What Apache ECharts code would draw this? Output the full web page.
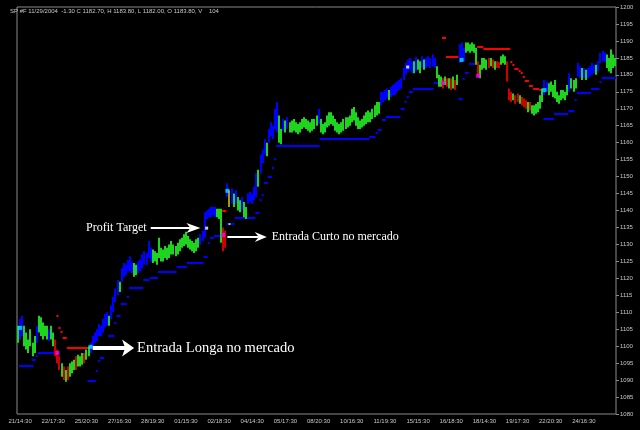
<!DOCTYPE html>
<html><head><meta charset="utf-8">
<script src="https://cdn.jsdelivr.net/npm/echarts@6/dist/echarts.min.js"></script>
<style>html,body{margin:0;padding:0;background:#000}#c{width:640px;height:430px}</style>
</head><body><div id="c"></div>
<script>
const timeLabels = ['21/14:30','22/17:30','25/20:30','27/16:30','28/19:30','01/15:30','02/18:30','04/14:30','05/17:30','08/20:30','10/16:30','11/19:30','15/15:30','16/18:30','18/14:30','19/17:30','22/20:30','24/16:30'];
const yTickMin = 1080, yTickMax = 1200, yTickStep = 5;

const barLow = [
1101,1102,1103,1100,1099,1098,1100,1097,1098,1101,
1104,1103,1102,1103,1102,1101.5,1102,1100,1097,1095,
1093,1091,1090,1089.5,1090,1091,1092,1093,1093,1094,
1094,1094.5,1095,1096,1097,1098,1100,1101,1101.5,1103,
1103,1104,1105.5,1106,1106,1108,1110,1113,1115,1116,
1119,1120.5,1121,1122,1122,1121.5,1120.5,1121,1121.5,1122,
1123,1124,1124,1126,1125,1124.5,1125,1124,1126,1125,
1125,1126,1125.5,1126,1127,1127,1126.5,1127,1128,1129,
1129.5,1130,1129,1128.5,1128,1127.5,1128,1129,1130,1131,
1132,1137.5,1138,1138,1138.5,1138,1138,1137.5,1130.5,1128,
1129,1144,1141,1142,1141,1142,1140,1139.5,1140,1138,
1137.5,1142,1142.5,1142,1143,1144,1147,1151,1154,1156.5,
1156,1160,1162,1161,1164,1163,1160,1159.5,1163.5,1163,
1164,1163,1163,1163.5,1163,1162.5,1163,1164,1164.5,1164,
1163.5,1163,1163.5,1164,1165,1165.5,1163,1162.5,1163,1164.5,
1165,1165.5,1165,1163.5,1163,1162.5,1163,1163.5,1164,1164.5,
1165,1166,1166.5,1165,1164,1164,1164.5,1165,1165.5,1166,
1166,1167,1167.5,1168,1168.5,1171,1172,1172.5,1173,1172.5,
1173.5,1174,1174,1175,1175.5,1176,1178.5,1180,1181,1181.5,
1180.5,1180.5,1181,1181.5,1180.5,1182,1181.5,1182,1182.5,1182,
1182.5,1182,1179,1176.5,1176.5,1176,1177,1176.5,1176,1175.5,
1176,1175.5,1177,1183.5,1184,1184,1186.5,1187,1186.5,1187,
1186.5,1183,1179.5,1179,1181.5,1182,1181.5,1182,1182.5,1182,
1181.5,1182,1182,1183,1183.5,1183,1178,1172.5,1172,1172.5,
1171.5,1172,1171.5,1171,1170.5,1170,1169,1169.5,1168.5,1168,
1168.5,1169,1170,1172,1174,1175,1174,1175,1173.5,1173,
1172,1171.5,1172.5,1173,1172.5,1174,1175,1176,1175,1176,
1179.5,1179,1178.5,1179,1178.5,1179,1179.5,1180,1180.5,1180,
1181,1183.5,1184,1183.8,1182,1181,1180.5,1182,1182.5
];
const barHigh = [
1106,1108,1109,1106,1104,1102,1105,1101,1103,1106,
1109,1108.5,1107,1106,1106,1105,1106,1104,1102,1099,
1097,1095,1094,1093,1094,1095,1095.5,1096,1097,1097.5,
1097,1098,1098,1099,1100,1101,1103,1104,1105,1106.5,
1106,1108,1109.5,1110,1109,1112,1114.5,1117,1119.5,1119,
1123,1124.5,1124,1125.5,1126.5,1125,1124.5,1124,1125,1125.5,
1127,1128,1127.5,1131,1129,1128.5,1128,1127.5,1132,1129,
1128.5,1129.5,1129,1130,1131,1130,1129.5,1130.5,1131.5,1132,
1133,1133.7,1132.5,1131.5,1131,1130.5,1131.5,1132,1133,1134,
1139.5,1140,1140.5,1141,1141,1141,1140.5,1140.5,1140.5,1135,
1134,1148,1146,1146.5,1145,1146,1144,1143,1144,1142.5,
1141,1145,1145.5,1145,1147,1151,1152,1156.5,1158,1161,
1160,1164,1166,1165,1170,1172,1168,1164,1167,1166.5,
1167.5,1166,1166.5,1167,1166,1165.5,1166,1167,1167.5,1167,
1166.5,1166,1167,1167,1168,1170,1167,1165.5,1166,1168,
1169,1169,1168,1167,1166,1165.5,1166,1167,1167.5,1167.5,
1168,1170,1170.5,1169,1167.5,1166.5,1167,1168,1169,1169.5,
1169,1170,1171,1172,1172,1175,1175,1175.5,1176,1175.5,
1176.5,1177,1177.5,1178,1178.5,1179,1182,1183.5,1184.5,1185,
1184,1184,1185.3,1184.5,1184,1185.5,1184.5,1185,1185.5,1185,
1186,1185,1182.5,1180,1179.5,1179,1179.5,1179,1179,1179,
1179.5,1178.5,1180,1189,1189.5,1188,1189.5,1189.5,1189,1189.5,
1189,1188,1184,1183,1185,1185,1184.5,1185,1185,1184.5,
1184,1184,1183.8,1185.5,1186,1185.5,1184,1176,1175,1174.5,
1174,1174.5,1174,1173.5,1173,1172.5,1172,1172,1171,1171,
1171.5,1172,1174,1176,1178.5,1178,1177.5,1178,1177,1178.5,
1175,1174,1175.5,1175.5,1175,1177,1180.5,1179,1178.5,1179,
1183.5,1182.5,1182,1182,1181.5,1182,1182.5,1183.5,1183,1183,
1184,1186.5,1187,1186.5,1186,1185,1187.5,1186,1185
];
const barColor =
 'gbbggggggb'+'gggggbggrr'+'rgrgrgggrg'+'ggrggbbbbb'+'bbbbgbbbbg'+
 'bbbbbbggbb'+'bbbbbggggg'+'gggggggggg'+'ggggggggbb'+'bbbbbbgggr'+
 'rbybgbggbg'+'gbbbbbgbbb'+'gbbbbbggbg'+'bggggggggg'+'gggggbgggg'+
 'gggggggggg'+'gggggggggg'+'gggggbbbbg'+'bbbbbbbbbb'+'bgbggbgbbb'+
 'bbgggrgrgr'+'grgbbbgggg'+'ggrggggrgr'+'grrgggrrrg'+'rrgrrrgrgg'+
 'ggggbbgggg'+'ggggggbggg'+'bbgbgbbbbg'+'bbbbggggg';

// trailing stops: [first bar, last bar, price]
const blueStops = [
[1,7,1094.2],[7,8,1095.9],[9,9,1097.1],[10,19,1098],
[34,37,1089.7],[38,38,1092.7],[39,39,1095.6],[40,41,1096.5],[42,43,1099.1],[44,46,1103],[47,47,1106.8],[48,49,1108.9],[50,52,1112.4],[53,53,1114.5],[54,60,1117.2],[61,63,1119.5],[64,67,1120.1],[68,76,1121.9],[77,81,1123.3],[82,89,1124.5],[90,91,1126.3],[92,92,1130.4],[93,94,1131.9],[95,99,1132.5],
[101,104,1136],[105,114,1137.8],[115,116,1139.3],[117,117,1143.1],[118,118,1144.6],[119,120,1148.1],[121,122,1149.9],[123,123,1152.5],[124,124,1155.2],[125,145,1159],[146,169,1161.1],[170,172,1161.6],[173,173,1162.9],[174,175,1163.7],[176,177,1166.7],[178,184,1167.6],[185,186,1169.9],[187,187,1172],[188,188,1173.5],[189,190,1174.9],[191,200,1175.8],[201,205,1177.6],
[213,214,1172.9],[215,215,1178.8],[216,217,1180.5],[218,221,1183.2],
[254,258,1167],[259,265,1168.5],[266,268,1169.3],[269,269,1172.6],[270,276,1174.6],[277,280,1175.8],[281,281,1177.9],[282,288,1179.1]
];
const redStops = [
[0,0,1105.4],[19,19,1108.9],[20,20,1105.4],[21,21,1104.2],[22,23,1102.4],[24,34,1099.5],
[99,100,1139.8],
[205,206,1190.9],[207,212,1185.2],
[222,224,1188.2],[225,237,1187.6],[238,238,1183.8],[239,239,1182.9],[240,241,1181.7],[242,242,1181.1],[243,243,1180.5],[244,244,1179.4],[245,246,1178.2],[247,248,1176.7],[249,251,1175.8],[252,253,1175.5]
];
const longEntries = [[1,1105.4],[35,1099.8],[101,1145.8],[214,1184.4],[254,1175.5]];
const shortEntries = [[19,1098],[99,1132.8],[205,1177.6],[222,1179.7]];
const profitTargets = [[91,1134.8],[188,1182.3]];
const yellowPoints = [[102,1136]];

const headerText = 'SP #F 11/29/2004  -1.30 C 1182.70, H 1183.80, L 1182.00, O 1183.80, V    104';
// annotation anchors (bar index, price)
const noteProfit = {text:'Profit Target', from:[63.8,1134.9], to:[87.9,1134.9]};
const noteShort = {text:'Entrada Curto no mercado', from:[101,1132.3], to:[120.3,1132.3]};
const noteLong = {text:'Entrada Longa no mercado', from:[35.7,1099.5], to:[56,1099.5]};

const labelStart = 1, labelStep = 16;
const N = barLow.length;
const cats = [];
for (let i = 0; i < N; i++) {
  const k = (i - labelStart) / labelStep;
  cats.push(Number.isInteger(k) && k >= 0 && k < timeLabels.length ? timeLabels[k] : '');
}
const colorMap = {g:'#1ed41e', b:'#0000ff', r:'#d00000', y:'#a89800'};

const chart = echarts.init(document.getElementById('c'), null, {renderer:'canvas'});
chart.setOption({
  animation:false,
  backgroundColor:'#000000',
  grid:{left:17, right:24, top:7, bottom:16, show:true, borderColor:'#8a8a8a', borderWidth:1, backgroundColor:'transparent'},
  xAxis:{type:'category', data:cats, boundaryGap:true,
    axisLine:{show:false}, axisTick:{show:false}, splitLine:{show:false},
    axisLabel:{interval:(i,v)=>v!=='', color:'#c8c8c8', fontSize:6, fontFamily:'Liberation Sans', margin:4}},
  yAxis:{type:'value', position:'right', min:yTickMin, max:yTickMax, interval:yTickStep,
    axisLine:{show:false}, splitLine:{show:false},
    axisTick:{show:true, length:3, lineStyle:{color:'#8a8a8a'}},
    axisLabel:{color:'#c8c8c8', fontSize:6, fontFamily:'Liberation Sans', margin:4, formatter:(v)=>String(v)}},
  series:[
    {type:'custom', name:'stops',
      data: blueStops.map(s=>[s[0],s[1],s[2],0]).concat(redStops.map(s=>[s[0],s[1],s[2],1])),
      encode:{x:[0,1], y:2},
      renderItem:(params, api)=>{
        const band = api.size([1,0])[0];
        const a = api.coord([api.value(0), api.value(2)]);
        const b = api.coord([api.value(1), api.value(2)]);
        return {type:'rect', shape:{x:a[0]-band/2, y:Math.round(a[1])-1, width:b[0]-a[0]+band, height:2},
          style:{fill: api.value(3) ? '#ff0000' : '#0000ff'}};
      }},
    {type:'custom', name:'bars',
      data: barLow.map((l,i)=>[i,l,barHigh[i]]),
      encode:{x:0, y:[1,2]},
      renderItem:(params, api)=>{
        const i = api.value(0);
        const lo = api.coord([i, api.value(1)]);
        const hi = api.coord([i, api.value(2)]);
        return {type:'rect', shape:{x:Math.round(lo[0]-1), y:hi[1], width:2, height:Math.max(1, lo[1]-hi[1])},
          style:{fill: colorMap[barColor[i]]}};
      }},
    {type:'scatter', data:longEntries, symbol:'rect', symbolSize:4, itemStyle:{color:'#00e8ff'}, z:5},
    {type:'scatter', data:shortEntries, symbol:'rect', symbolSize:4, itemStyle:{color:'#ff00ff'}, z:5},
    {type:'scatter', data:profitTargets, symbol:'rect', symbolSize:3, itemStyle:{color:'#ffffff'}, z:5},
    {type:'scatter', data:yellowPoints, symbol:'rect', symbolSize:2, itemStyle:{color:'#ffff00'}, z:5}
  ]
});

function px(p){ return chart.convertToPixel({gridIndex:0}, p); }
function arrow(note, thick, headLen, headHalf, notch){
  const a = px(note.from), b = px(note.to);
  const y = Math.round(a[1]);
  return [
    {type:'line', shape:{x1:a[0], y1:y, x2:b[0]-headLen+notch, y2:y}, style:{stroke:'#ffffff', lineWidth:thick}, z:20},
    {type:'polygon', shape:{points:[[b[0],y],[b[0]-headLen,y-headHalf],[b[0]-headLen+notch,y],[b[0]-headLen,y+headHalf]]}, style:{fill:'#ffffff'}, z:20}
  ];
}
function label(text, x, y, size, align){
  return {type:'text', x:x, y:y, z:20,
    style:{text:text, fill:'#ffffff', font:size+'px "Liberation Serif"', textAlign:align, textVerticalAlign:'middle', align:align, verticalAlign:'middle'}};
}
const els = [];
els.push({type:'text', x:10, y:11, z:20, style:{text:headerText, fill:'#c8c8c8', font:'6px "Liberation Sans"', textVerticalAlign:'middle', verticalAlign:'middle'}});
els.push(...arrow(noteProfit, 2, 14, 5, 4));
els.push(label(noteProfit.text, px(noteProfit.from)[0]-4, Math.round(px(noteProfit.from)[1]), 12, 'right'));
els.push(...arrow(noteShort, 2, 12, 5, 4));
els.push(label(noteShort.text, px(noteShort.to)[0]+5, Math.round(px(noteShort.to)[1]), 12, 'left'));
els.push(...arrow(noteLong, 4, 12, 8.5, 3));
els.push(label(noteLong.text, px(noteLong.to)[0]+3, Math.round(px(noteLong.to)[1]), 14.5, 'left'));
chart.setOption({graphic:{elements:els}});
</script></body></html>
